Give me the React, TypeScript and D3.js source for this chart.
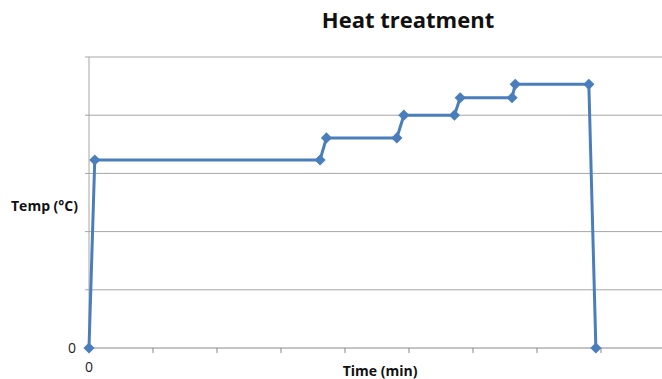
import React from "react";
import * as d3 from "d3";

const times = [0, 0.09, 3.61, 3.71, 4.81, 4.92, 5.71, 5.8, 6.61, 6.66, 7.81, 7.92];
const temps = [0, 3.23, 3.23, 3.61, 3.61, 4.0, 4.0, 4.3, 4.3, 4.53, 4.53, 0];
const xTicks = [0, 1, 2, 3, 4, 5, 6, 7, 8, 9];
const yTicks = [0, 1, 2, 3, 4, 5];
const title = "Heat treatment";
const xLabel = "Time (min)";
const yLabel = "Temp (°C)";

export default function App() {
  const W = 662, H = 379;
  const x = d3.scaleLinear().domain([0, 9]).range([89, 665]);
  const y = d3.scaleLinear().domain([0, 5]).range([348, 57]);
  const pts = times.map((t, i) => [x(t), y(temps[i])] as [number, number]);
  const line = d3.line()(pts) || "";
  const diamond = d3.symbol().type((d3 as any).symbolDiamond2 || d3.symbolDiamond).size(80)() || "";
  const color = "#4a7ebb";
  const font = "'Open Sans', 'Liberation Sans', sans-serif";
  return (
    <svg width={W} height={H} style={{ position: "absolute", left: 0, top: 0, background: "#fff" }} fontFamily={font}>
      {yTicks.slice(1).map((t) => (
        <line key={t} x1={85} x2={W} y1={y(t)} y2={y(t)} stroke="#a6a6a6" strokeWidth={1} />
      ))}
      <line x1={89} x2={89} y1={y(5)} y2={y(0)} stroke="#a6a6a6" strokeWidth={1} />
      <line x1={85} x2={W} y1={y(0)} y2={y(0)} stroke="#888" strokeWidth={1} />
      {xTicks.map((t) => (
        <line key={t} x1={x(t)} x2={x(t)} y1={y(0)} y2={y(0) + 5} stroke="#888" strokeWidth={1} />
      ))}
      <path d={line} fill="none" stroke={color} strokeWidth={3} strokeLinejoin="round" />
      {pts.map((p, i) => (
        <path key={i} d={diamond} transform={`translate(${p[0]},${p[1]})`} fill={color} />
      ))}
      <text x={76} y={y(0)} dy="0.35em" textAnchor="end" fontSize={14} fill="#222">0</text>
      <text x={x(0)} y={372} textAnchor="middle" fontSize={14} fill="#222">0</text>
      <text x={408} y={28} textAnchor="middle" fontSize={22} fontWeight="bold" fill="#111">{title}</text>
      <text x={11} y={211} fontSize={14} fontWeight="bold" fill="#111">{yLabel}</text>
      <text x={380} y={376} textAnchor="middle" fontSize={14} fontWeight="bold" fill="#111">{xLabel}</text>
    </svg>
  );
}
